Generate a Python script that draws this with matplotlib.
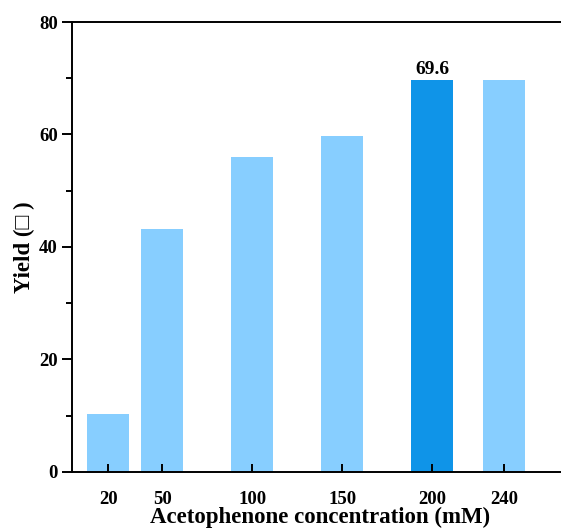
import numpy as np
import matplotlib.pyplot as plt
from matplotlib.ticker import MultipleLocator

# acetophenone concentration (mM) vs yield
conc = [20, 50, 100, 150, 200, 240]
yields = [10.2, 43.2, 56.0, 59.7, 69.6, 69.6]
best = 4  # index of the highlighted bar

light = '#87ceff'
dark = '#0f94e8'

plt.rcParams['font.family'] = ['Liberation Serif', 'DejaVu Sans']
plt.rcParams['font.weight'] = 'bold'

fig = plt.figure(figsize=(5.61, 5.28), dpi=100)
ax = fig.add_axes([0.1289, 0.1066, 0.8711, 0.8517])

colors = [dark if i == best else light for i in range(len(conc))]
ax.bar(conc, yields, width=23.5, color=colors)
ax.text(conc[best], yields[best] + 0.5, '%.1f' % yields[best],
        ha='center', va='bottom', fontsize=14, fontweight='bold')

ax.set_xlim(0, 271.5)
ax.set_ylim(0, 80)
ax.set_xticks(conc)
ax.set_yticks([0, 20, 40, 60, 80])
ax.yaxis.set_minor_locator(MultipleLocator(10))

for s in ['left', 'bottom', 'top']:
    ax.spines[s].set_linewidth(1.4)
ax.spines['right'].set_visible(False)

ax.tick_params(axis='x', direction='in', length=6, width=1.4, labelsize=13.5, pad=14)
ax.tick_params(axis='y', which='major', direction='out', length=7, width=1.4, labelsize=13.5)
ax.tick_params(axis='y', which='minor', direction='out', length=4, width=1.4)

ax.set_xlabel('Acetophenone concentration (mM)', fontsize=16.5, fontweight='bold')
# keep the x label fully inside the figure
ax.xaxis.set_label_coords(0.57, 0.0, transform=fig.transFigure)
ax.xaxis.label.set_va('bottom')
ax.set_ylabel('Yield (\u25a1 )', fontsize=16.5, fontweight='bold', labelpad=3)

fig.savefig('out.png', dpi=100)
